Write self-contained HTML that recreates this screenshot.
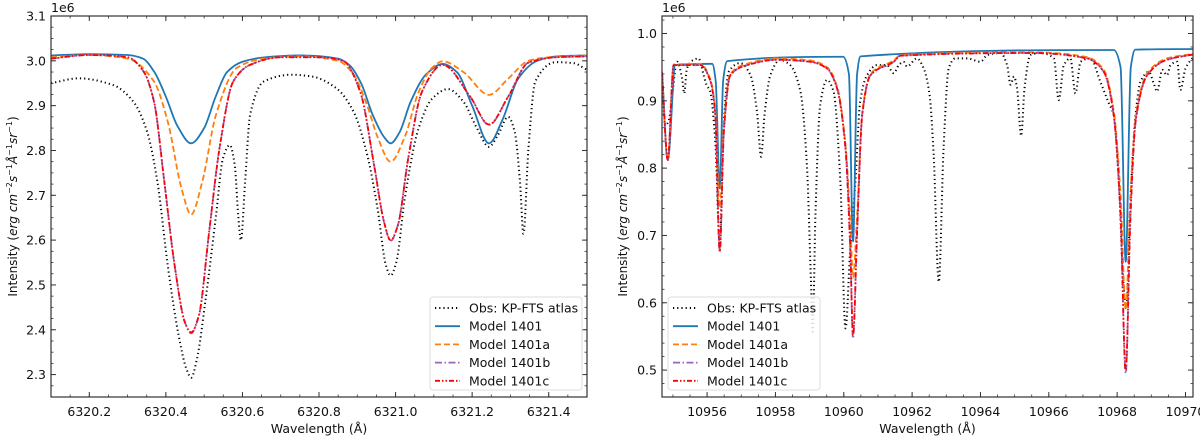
<!DOCTYPE html>
<html><head><meta charset="utf-8">
<style>
html,body{margin:0;padding:0;background:#fff;}
svg{display:block;font-family:"DejaVu Sans","Liberation Sans",sans-serif;}
</style></head>
<body>
<svg id="chart" width="1200" height="437" viewBox="0 0 1200 437" xmlns="http://www.w3.org/2000/svg">
<defs>
<clipPath id="clipL"><rect x="51" y="16" width="536" height="381"/></clipPath>
<clipPath id="clipR"><rect x="662" y="16" width="531" height="381"/></clipPath>
</defs>
<g id="gL"></g>
<g id="gR"></g>
</svg>
<script>
// ---------- Left panel data (intensity in 1e6 units) ----------
const L_obs_x = [6320.100,6320.172,6320.262,6320.315,6320.351,6320.378,6320.405,6320.432,6320.454,6320.466,6320.481,6320.504,6320.531,6320.549,6320.567,6320.580,6320.589,6320.596,6320.607,6320.620,6320.656,6320.728,6320.782,6320.845,6320.890,6320.926,6320.953,6320.975,6320.987,6321.002,6321.024,6321.060,6321.096,6321.137,6321.177,6321.213,6321.244,6321.267,6321.294,6321.311,6321.325,6321.334,6321.347,6321.365,6321.419,6321.464,6321.500];
const L_obs_y = [2.950,2.961,2.946,2.909,2.842,2.730,2.543,2.394,2.312,2.293,2.334,2.469,2.655,2.782,2.812,2.767,2.655,2.600,2.730,2.879,2.954,2.969,2.965,2.939,2.887,2.790,2.670,2.543,2.521,2.551,2.693,2.849,2.916,2.937,2.909,2.849,2.808,2.834,2.875,2.842,2.730,2.614,2.804,2.954,2.997,2.995,2.980];
const L_m0_x = [6320.10,6320.20,6320.30,6320.34,6320.37,6320.40,6320.43,6320.466,6320.50,6320.53,6320.56,6320.60,6320.66,6320.75,6320.85,6320.88,6320.91,6320.94,6320.97,6320.987,6321.01,6321.04,6321.08,6321.123,6321.16,6321.20,6321.244,6321.28,6321.32,6321.37,6321.42,6321.50];
const L_m0_y = [3.012,3.015,3.013,3.005,2.975,2.920,2.855,2.816,2.850,2.920,2.975,2.998,3.008,3.012,3.005,2.990,2.950,2.880,2.830,2.816,2.840,2.910,2.970,2.993,2.975,2.900,2.816,2.870,2.960,3.000,3.010,3.012];
const L_ma_x = [6320.10,6320.20,6320.30,6320.369,6320.405,6320.441,6320.466,6320.495,6320.531,6320.585,6320.656,6320.75,6320.85,6320.89,6320.926,6320.953,6320.987,6321.024,6321.060,6321.096,6321.123,6321.177,6321.244,6321.294,6321.347,6321.40,6321.50];
const L_ma_y = [3.008,3.013,3.005,2.954,2.864,2.715,2.657,2.730,2.880,2.984,3.005,3.010,3.000,2.970,2.900,2.830,2.775,2.830,2.930,2.985,2.999,2.975,2.924,2.960,3.000,3.008,3.012];
const L_mb_x = [6320.10,6320.20,6320.30,6320.342,6320.369,6320.396,6320.423,6320.450,6320.466,6320.486,6320.513,6320.540,6320.576,6320.620,6320.700,6320.800,6320.863,6320.908,6320.944,6320.970,6320.987,6321.006,6321.033,6321.069,6321.123,6321.195,6321.244,6321.294,6321.347,6321.42,6321.50];
const L_mb_y = [3.005,3.013,3.008,2.976,2.909,2.730,2.543,2.416,2.392,2.431,2.618,2.804,2.954,2.991,3.008,3.008,3.000,2.930,2.767,2.640,2.598,2.633,2.782,2.931,2.991,2.920,2.857,2.920,2.996,3.008,3.010];
const L_mc_x = L_mb_x.slice();
const L_mc_y = [3.005,3.013,3.008,2.976,2.909,2.730,2.543,2.416,2.394,2.431,2.618,2.804,2.954,2.991,3.008,3.008,3.000,2.930,2.767,2.640,2.600,2.633,2.782,2.931,2.991,2.920,2.858,2.920,2.996,3.008,3.010];
const L_xticks = [6320.2,6320.4,6320.6,6320.8,6321.0,6321.2,6321.4];
const L_yticks = [2.3,2.4,2.5,2.6,2.7,2.8,2.9,3.0,3.1];

// ---------- Right panel data (intensity in 1e6 units) ----------
const R_obs_x = [10954.68,10954.78,10954.87,10954.97,10955.12,10955.27,10955.33,10955.41,10955.61,10955.75,10955.90,10955.98,10956.09,10956.24,10956.37,10956.47,10956.63,10956.97,10957.27,10957.46,10957.58,10957.68,10957.85,10958.14,10958.43,10958.73,10958.92,10959.04,10959.09,10959.17,10959.31,10959.51,10959.70,10959.90,10960.05,10960.19,10960.34,10960.48,10960.68,10960.97,10961.26,10961.46,10961.61,10961.75,10961.85,10962.14,10962.34,10962.51,10962.63,10962.78,10962.92,10963.07,10963.26,10963.61,10964.00,10964.20,10964.59,10964.78,10964.88,10964.98,10965.07,10965.19,10965.29,10965.46,10965.76,10966.15,10966.29,10966.44,10966.63,10966.78,10966.93,10967.22,10967.51,10967.76,10967.90,10968.05,10968.18,10968.27,10968.39,10968.54,10968.68,10968.93,10969.07,10969.17,10969.32,10969.46,10969.56,10969.76,10969.85,10970.00,10970.24];
const R_obs_y = [0.929,0.864,0.869,0.904,0.958,0.933,0.911,0.948,0.961,0.963,0.938,0.924,0.914,0.839,0.686,0.849,0.943,0.956,0.938,0.884,0.817,0.879,0.938,0.961,0.953,0.914,0.805,0.631,0.557,0.730,0.894,0.931,0.914,0.780,0.562,0.681,0.780,0.899,0.938,0.953,0.953,0.941,0.953,0.958,0.951,0.963,0.948,0.909,0.820,0.631,0.829,0.948,0.963,0.963,0.958,0.968,0.971,0.953,0.924,0.936,0.919,0.848,0.919,0.968,0.971,0.963,0.901,0.953,0.963,0.911,0.958,0.963,0.928,0.896,0.879,0.780,0.631,0.592,0.755,0.879,0.928,0.943,0.926,0.914,0.946,0.938,0.953,0.958,0.916,0.948,0.966];
const R_m0_x = [10954.68,10954.85,10955.07,10956.15,10956.25,10956.37,10956.47,10956.59,10959.98,10960.15,10960.27,10960.39,10960.49,10967.90,10968.10,10968.25,10968.40,10968.53,10970.24];
const R_m0_y = [0.943,0.812,0.953,0.955,0.930,0.770,0.930,0.959,0.9655,0.940,0.691,0.940,0.966,0.9755,0.950,0.661,0.950,0.976,0.977];
const R_mc_x = [10954.68,10954.85,10955.02,10955.80,10956.10,10956.24,10956.37,10956.49,10956.68,10957.17,10958.05,10959.02,10959.51,10959.80,10960.05,10960.19,10960.27,10960.39,10960.54,10960.78,10961.46,10961.66,10965.56,10967.12,10967.61,10967.90,10968.10,10968.25,10968.39,10968.54,10968.88,10969.46,10970.24];
const R_mc_y = [0.943,0.812,0.953,0.953,0.929,0.879,0.676,0.854,0.938,0.953,0.961,0.958,0.948,0.919,0.829,0.681,0.552,0.706,0.879,0.938,0.958,0.967,0.971,0.963,0.943,0.879,0.730,0.500,0.730,0.869,0.938,0.961,0.969];
const R_ma_x = R_mc_x.slice();
const R_ma_y = [0.943,0.812,0.954,0.955,0.931,0.885,0.741,0.865,0.940,0.955,0.963,0.960,0.950,0.922,0.835,0.720,0.637,0.730,0.882,0.940,0.960,0.968,0.972,0.965,0.946,0.885,0.760,0.590,0.760,0.875,0.941,0.963,0.970];
const R_mb_x = R_mc_x.slice();
const R_mb_y = [0.943,0.812,0.953,0.953,0.929,0.879,0.676,0.854,0.938,0.953,0.961,0.958,0.948,0.919,0.829,0.678,0.547,0.704,0.879,0.938,0.958,0.967,0.971,0.963,0.943,0.879,0.728,0.495,0.728,0.869,0.938,0.961,0.969];
const R_xticks = [10956,10958,10960,10962,10964,10966,10968,10970];
const R_yticks = [0.5,0.6,0.7,0.8,0.9,1.0];

const NS = "http://www.w3.org/2000/svg";
function mk(tag, attrs, parent){ const e=document.createElementNS(NS,tag); for(const k in attrs) e.setAttribute(k,attrs[k]); parent.appendChild(e); return e; }

function monotonePath(px, py){
  const n=px.length; if(n<2) return "";
  const d=[], m=new Array(n);
  for(let i=0;i<n-1;i++) d.push((py[i+1]-py[i])/(px[i+1]-px[i]));
  m[0]=d[0]; m[n-1]=d[n-2];
  for(let i=1;i<n-1;i++){ if(d[i-1]*d[i]<=0) m[i]=0; else { const h0=px[i]-px[i-1],h1=px[i+1]-px[i]; const w1=2*h1+h0,w2=h1+2*h0; m[i]=(w1+w2)/(w1/d[i-1]+w2/d[i]); } }
  let s="M"+px[0].toFixed(2)+","+py[0].toFixed(2);
  for(let i=0;i<n-1;i++){ const h=(px[i+1]-px[i])/3; s+="C"+(px[i]+h).toFixed(2)+","+(py[i]+m[i]*h).toFixed(2)+" "+(px[i+1]-h).toFixed(2)+","+(py[i+1]-m[i+1]*h).toFixed(2)+" "+px[i+1].toFixed(2)+","+py[i+1].toFixed(2); }
  return s;
}

function panel(g, cfg){
  const {x0,x1,y0,y1,L,R,T,B} = cfg;
  const sx=v=>L+(v-x0)/(x1-x0)*(R-L);
  const sy=v=>B-(v-y0)/(y1-y0)*(B-T);
  const plot=mk('g',{'clip-path':cfg.clip},g);
  
  
  cfg.series.forEach(s=>{
    const px=s.x.map(sx), py=s.y.map(sy);
    const p=mk('path',{d:monotonePath(px,py),fill:'none',stroke:s.color,'stroke-width':s.w||1.8,'stroke-dasharray':s.dash||'none','stroke-linecap':s.cap||'butt'},plot);
    
    
  });
  // frame
  const fr=mk('rect',{x:L,y:T,width:R-L,height:B-T,fill:'none',stroke:'#333','stroke-width':1.2},g);
  
  
  // x ticks
  const xa=mk('g',{},g);
  
  
  for(let v=cfg.xminorStart; v<=x1+1e-9; v+=cfg.xminor){
    const X=sx(v); if(X<L-0.1||X>R+0.1) continue;
    mk('line',{x1:X,x2:X,y1:B,y2:B-2.5,stroke:'#333','stroke-width':0.8},xa);
    mk('line',{x1:X,x2:X,y1:T,y2:T+2.5,stroke:'#333','stroke-width':0.8},xa);
  }
  cfg.xticks.forEach(v=>{
    const X=sx(v);
    mk('line',{x1:X,x2:X,y1:B,y2:B-5,stroke:'#333','stroke-width':1},xa);
    mk('line',{x1:X,x2:X,y1:T,y2:T+5,stroke:'#333','stroke-width':1},xa);
    const t=mk('text',{x:X,y:B+19,'text-anchor':'middle','font-size':12.5,fill:'#111'},xa);
    t.textContent=v.toFixed(cfg.xdec);
    
    
  });
  const xl=mk('text',{x:(L+R)/2,y:B+36,'text-anchor':'middle','font-size':12.5,fill:'#111'},g);
  xl.textContent='Wavelength (\u00C5)';
  
  
  // y ticks
  const ya=mk('g',{},g);
  
  
  for(let v=cfg.yminorStart; v<=y1+1e-9; v+=cfg.yminor){
    const Y=sy(v); if(Y<T-0.1||Y>B+0.1) continue;
    mk('line',{x1:L,x2:L+2.5,y1:Y,y2:Y,stroke:'#333','stroke-width':0.8},ya);
    mk('line',{x1:R,x2:R-2.5,y1:Y,y2:Y,stroke:'#333','stroke-width':0.8},ya);
  }
  cfg.yticks.forEach(v=>{
    const Y=sy(v);
    mk('line',{x1:L,x2:L+5,y1:Y,y2:Y,stroke:'#333','stroke-width':1},ya);
    mk('line',{x1:R,x2:R-5,y1:Y,y2:Y,stroke:'#333','stroke-width':1},ya);
    const t=mk('text',{x:L-5,y:Y+4.5,'text-anchor':'end','font-size':12.5,fill:'#111'},ya);
    t.textContent=v.toFixed(1);
    
    
  });
  const off=mk('text',{x:L,y:T-4,'font-size':12.5,fill:'#111'},g);
  off.textContent='1e6';
  
  
  const yl=mk('text',{x:0,y:0,'text-anchor':'middle','font-size':12,fill:'#111',transform:`translate(${cfg.ylabX},${(T+B)/2}) rotate(-90)`},g);
  yl.innerHTML='Intensity (<tspan font-style="italic">erg cm</tspan><tspan font-size="8" dy="-5">\u22122</tspan><tspan font-style="italic" dy="5">s</tspan><tspan font-size="8" dy="-5">\u22121</tspan><tspan font-style="italic" dy="5">\u00C5</tspan><tspan font-size="8" dy="-5">\u22121</tspan><tspan font-style="italic" dy="5">sr</tspan><tspan font-size="8" dy="-5">\u22121</tspan><tspan dy="5">)</tspan>';
  
  
  // legend
  const lg=mk('g',{},g);
  
  
  const lx=cfg.legX, ly=297;
  mk('rect',{x:lx,y:ly,width:152,height:93,rx:3,fill:'#fff','fill-opacity':0.85,stroke:'#ddd','stroke-width':1},lg);
  cfg.series.forEach((s,i)=>{
    const Y=ly+11+i*18.2;
    const e=mk('g',{},lg);
    
    
    mk('line',{x1:lx+5,x2:lx+30,y1:Y,y2:Y,stroke:s.color,'stroke-width':s.w||1.8,'stroke-dasharray':s.dash||'none','stroke-linecap':s.cap||'butt'},e);
    const t=mk('text',{x:lx+39,y:Y+4.5,'font-size':12.5,fill:'#111'},e);
    t.textContent=s.label;
  });
}

const dotted='1.2,3', dash='6,3', dashdot='7,2.5,1.5,2.5', dashdotdot='5,2,1.5,2,1.5,2';
panel(document.getElementById('gL'),{
  x0:6320.1,x1:6321.5,y0:2.25,y1:3.1,L:51,R:587,T:16,B:397,clip:'url(#clipL)',
  xticks:L_xticks,xminor:0.05,xminorStart:6320.1,xdec:1,yticks:L_yticks,yminor:0.025,yminorStart:2.25,ylabX:17,legX:430,
  series:[
    {name:'obs-kp-fts-atlas-line',label:'Obs: KP-FTS atlas',x:L_obs_x,y:L_obs_y,color:'#000',dash:dotted,w:2},
    {name:'model-1401-line',label:'Model 1401',x:L_m0_x,y:L_m0_y,color:'#1f77b4'},
    {name:'model-1401a-line',label:'Model 1401a',x:L_ma_x,y:L_ma_y,color:'#ff7f0e',dash:dash},
    {name:'model-1401b-line',label:'Model 1401b',x:L_mb_x,y:L_mb_y,color:'#9467bd',dash:dashdot},
    {name:'model-1401c-line',label:'Model 1401c',x:L_mc_x,y:L_mc_y,color:'#ff0000',dash:dashdotdot}
  ]});
panel(document.getElementById('gR'),{
  x0:10954.68,x1:10970.22,y0:0.46,y1:1.026,L:662,R:1193,T:16,B:397,clip:'url(#clipR)',
  xticks:R_xticks,xminor:0.5,xminorStart:10955,xdec:0,yticks:R_yticks,yminor:0.02,yminorStart:0.46,ylabX:627,legX:668,
  series:[
    {name:'obs-kp-fts-atlas-line',label:'Obs: KP-FTS atlas',x:R_obs_x,y:R_obs_y,color:'#000',dash:dotted,w:2},
    {name:'model-1401-line',label:'Model 1401',x:R_m0_x,y:R_m0_y,color:'#1f77b4'},
    {name:'model-1401a-line',label:'Model 1401a',x:R_ma_x,y:R_ma_y,color:'#ff7f0e',dash:dash},
    {name:'model-1401b-line',label:'Model 1401b',x:R_mb_x,y:R_mb_y,color:'#9467bd',dash:dashdot},
    {name:'model-1401c-line',label:'Model 1401c',x:R_mc_x,y:R_mc_y,color:'#ff0000',dash:dashdotdot}
  ]});
</script>
</body></html>
